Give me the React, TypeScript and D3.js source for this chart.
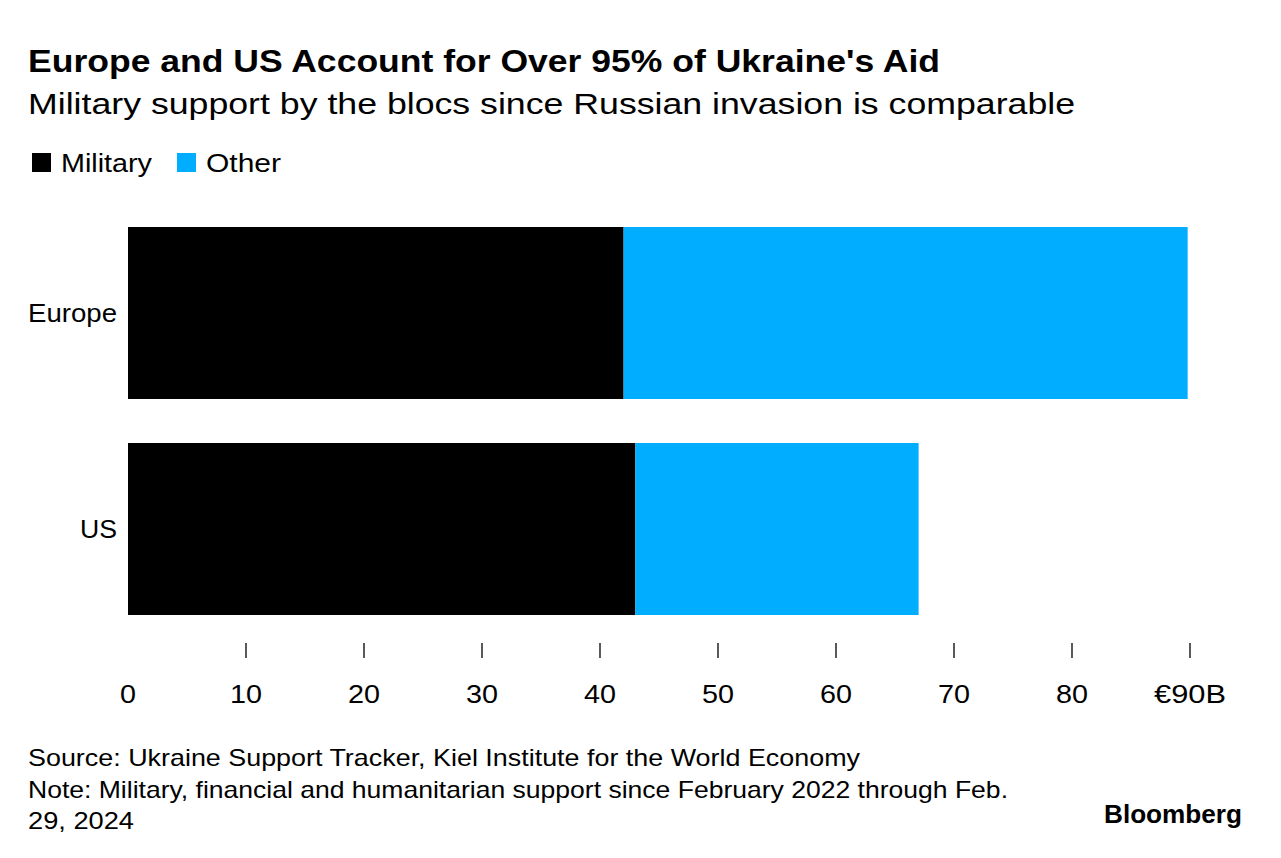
import React from "react";
import * as d3 from "d3";

const categories = ["Europe", "US"];
const seriesNames = ["Military", "Other"];
const military = [42, 43];
const other = [47.8, 24];
const tickValues = [10, 20, 30, 40, 50, 60, 70, 80, 90];
const tickLabels = ["0", "10", "20", "30", "40", "50", "60", "70", "80", "€90B"];
const colors = ["#000000", "#00adff"];

const W = 1281;
const H = 858;
const FONT = "'Liberation Sans', Arial, Helvetica, sans-serif";

export default function App() {
  const x = d3.scaleLinear().domain([0, 90]).range([128, 1190]);
  const y = d3
    .scaleBand()
    .domain(categories)
    .range([205.4, 636.6])
    .paddingInner(0.2037)
    .paddingOuter(0.1);
  const stackData = categories.map((c, i) => ({ cat: c, Military: military[i], Other: other[i] }));
  const stacked = d3.stack<any>().keys(seriesNames)(stackData);
  const labelTicks = [0, ...tickValues];
  const legendX = [32, 177];
  const legendTextLen = [91, 75];
  const catLen: Record<string, number> = { Europe: 89, US: 37 };

  return (
    <svg width={W} height={H} style={{ position: "absolute", left: 0, top: 0, background: "#fff" }} fontFamily={FONT}>
      <rect x={0} y={0} width={W} height={H} fill="#fff" />
      <text x={28} y={72} fontSize={32} fontWeight="bold" fill="#000" textLength={912} lengthAdjust="spacingAndGlyphs">
        Europe and US Account for Over 95% of Ukraine's Aid
      </text>
      <text x={28} y={114} fontSize={29} fill="#000" textLength={1047} lengthAdjust="spacingAndGlyphs">
        Military support by the blocs since Russian invasion is comparable
      </text>
      {seriesNames.map((s, i) => {
        const lx = legendX[i];
        return (
          <g key={s}>
            <rect x={lx} y={153} width={19} height={19} fill={colors[i]} />
            <text x={lx + 29} y={172} fontSize={26} fill="#000" textLength={legendTextLen[i]} lengthAdjust="spacingAndGlyphs">
              {s}
            </text>
          </g>
        );
      })}
      {stacked.map((layer, li) => (
        <g key={layer.key} fill={colors[li]}>
          {layer.map((d: any, j: number) => (
            <rect
              key={j}
              x={x(d[0])}
              y={y(categories[j])}
              width={x(d[1]) - x(d[0])}
              height={y.bandwidth()}
            />
          ))}
        </g>
      ))}
      {categories.map((c) => (
        <text
          key={c}
          x={117}
          y={(y(c) as number) + y.bandwidth() / 2 + 9}
          fontSize={26}
          textAnchor="end"
          fill="#000"
          textLength={catLen[c]}
          lengthAdjust="spacingAndGlyphs"
        >
          {c}
        </text>
      ))}
      {tickValues.map((t) => (
        <line key={t} x1={x(t)} x2={x(t)} y1={643} y2={658} stroke="#000" strokeWidth={1.3} />
      ))}
      {labelTicks.map((t, i) => {
        const lab = tickLabels[i];
        const len = lab.length === 1 ? 16 : lab.length === 2 ? 32 : 72;
        return (
          <text
            key={t}
            x={x(t)}
            y={703}
            fontSize={26}
            textAnchor="middle"
            fill="#000"
            textLength={len}
            lengthAdjust="spacingAndGlyphs"
          >
            {lab}
          </text>
        );
      })}
      <text x={28} y={766} fontSize={24} fill="#000" textLength={832} lengthAdjust="spacingAndGlyphs">
        Source: Ukraine Support Tracker, Kiel Institute for the World Economy
      </text>
      <text x={28} y={798} fontSize={24} fill="#000" textLength={980} lengthAdjust="spacingAndGlyphs">
        Note: Military, financial and humanitarian support since February 2022 through Feb.
      </text>
      <text x={28} y={829} fontSize={24} fill="#000" textLength={106} lengthAdjust="spacingAndGlyphs">
        29, 2024
      </text>
      <text x={1242} y={823} fontSize={25} fontWeight="bold" textAnchor="end" fill="#000" textLength={138} lengthAdjust="spacingAndGlyphs">
        Bloomberg
      </text>
    </svg>
  );
}
